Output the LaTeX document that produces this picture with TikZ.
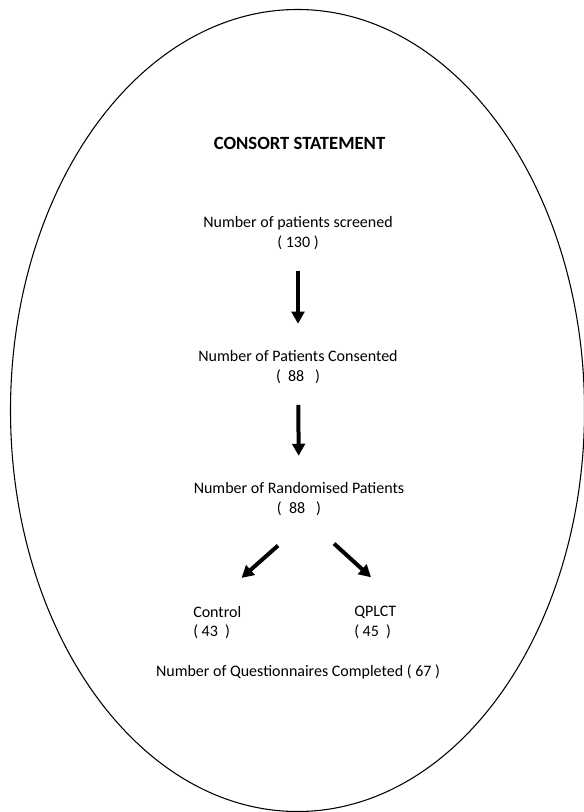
\documentclass[tikz,border=0pt]{standalone}
\usepackage{fontspec}
\setmainfont{Carlito}
\usetikzlibrary{arrows.meta,calc}

\begin{document}
\begin{tikzpicture}[x=0.75pt,y=-0.75pt,
  txt/.style={font=\fontsize{12}{14.5}\selectfont,align=center,inner sep=0pt},
  grp/.style={txt,align=left,anchor=west},
  arr/.style={-{Triangle[width=9.5pt,length=9pt]},line width=3pt}]
\useasboundingbox (0,0) rectangle (583,812);
\draw[line width=0.8pt] (297.5,410.5) ellipse [x radius=215.25pt,y radius=300.75pt];
\node[font=\fontsize{14}{16}\selectfont\bfseries,inner sep=0pt] (title) at (299.5,143) {CONSORT STATEMENT};
\node[txt] (screened) at (298,233) {Number of patients screened\\( 130 )};
\node[txt] (consented) at (298,367) {Number of Patients Consented\\(~~88~~~)};
\node[txt] (random) at (299,499) {Number of Randomised Patients\\(~~88~~~)};
\node[grp] (control) at (193,622.5) {Control\\(~43~~)};
\node[grp] (qplct) at (354,622.5) {QPLCT\\(~45~~)};
\node[txt] (done) at (298,672) {Number of Questionnaires Completed ( 67 )};
% arrows
\draw[arr,shorten <=16pt,shorten >=20pt] (screened) -- (consented);
\draw[arr,shorten <=16pt,shorten >=20pt] (consented) -- (random);
\draw[arr] ($(random.south)+(-21,30)$) -- ($(control.north east)+(0,-28)$);
\draw[arr] ($(random.south)+(35,28)$) -- ($(qplct.north west)+(17,-29)$);
\end{tikzpicture}
\end{document}
